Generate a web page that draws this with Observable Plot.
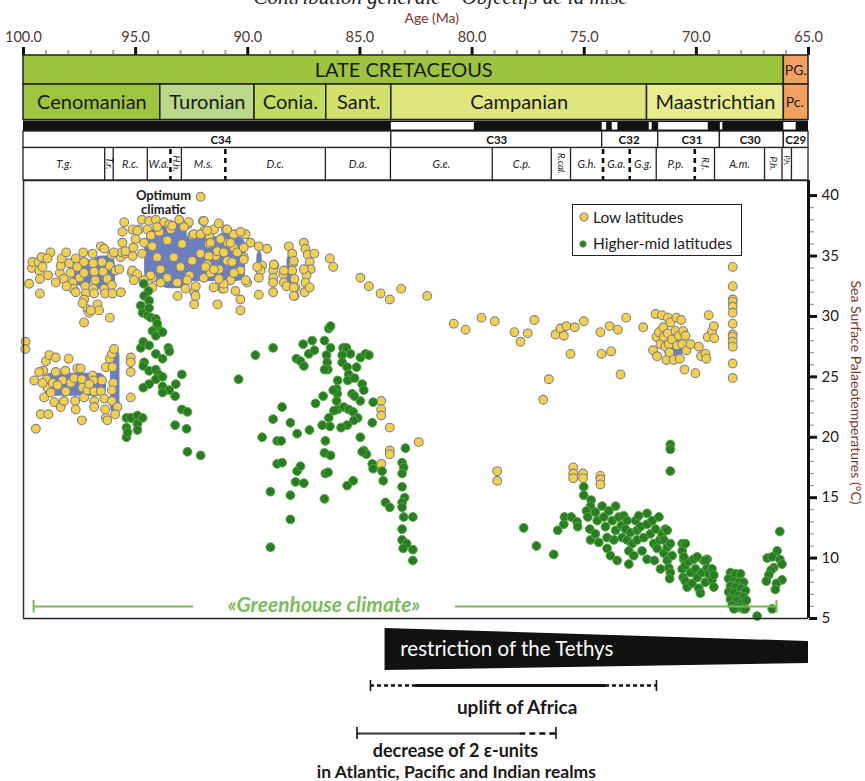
<!DOCTYPE html>
<html><head><meta charset="utf-8">
<script src="https://cdn.jsdelivr.net/npm/d3@7"></script>
<script src="https://cdn.jsdelivr.net/npm/@observablehq/plot@0.6"></script>
<style>
body{margin:0;background:#fff;}
#wrap{position:relative;width:865px;height:781px;overflow:hidden;font-family:Lato,"Open Sans",sans-serif;background:#fff;}
#wrap svg{display:block;}
#legend{position:absolute;left:572px;top:204px;width:168px;height:50px;border:1.6px solid #222;background:#fff;font:15.5px Lato,sans-serif;color:#1a1a1a;}
#legend .row{position:absolute;left:0;height:20px;line-height:20px;white-space:nowrap;}
#legend svg{position:absolute;top:0;}
#legend span{position:absolute;left:20px;}
</style></head><body><div id="wrap"></div>
<script>
// ---------- time scale ----------
const ageMajor = [100, 95, 90, 85, 80, 75, 70, 65];
const ageMinor = [99,98,97,96,94,93,92,91,89,88,87,86,84,83,82,81,79,78,77,76,74,73,72,71,69,68,67,66];
const periods = [
  {name: "LATE CRETACEOUS", start: 100, end: 66.1, fill: "#9cc43f"},
  {name: "PG.", start: 66.1, end: 65, fill: "#f3a160"}
];
const stages = [
  {name: "Cenomanian", start: 100, end: 93.9, fill: "#9dc540"},
  {name: "Turonian", start: 93.9, end: 89.7, fill: "#bad78b"},
  {name: "Conia.", start: 89.7, end: 86.5, fill: "#c2da5f"},
  {name: "Sant.", start: 86.5, end: 83.6, fill: "#d2e06c"},
  {name: "Campanian", start: 83.6, end: 72.2, fill: "#dfe67e"},
  {name: "Maastrichtian", start: 72.2, end: 66.1, fill: "#e7ec8f"},
  {name: "Pc.", start: 66.1, end: 65, fill: "#f3a160"}
];
const reversed = [[83.6,79.9],[74.2,74.0],[73.75,73.5],[72.1,71.97],[71.68,69.47],[68.93,68.82],[66.1,65.55]];
const chrons = [
  {name: "C34", start: 100, end: 83.6, label: 91.2},
  {name: "C33", start: 83.6, end: 74.2, label: 78.9},
  {name: "C32", start: 74.2, end: 71.7, label: 73.0},
  {name: "C31", start: 71.7, end: 68.95, label: 70.2},
  {name: "C30", start: 68.95, end: 66.1, label: 67.6},
  {name: "C29", start: 66.1, end: 65, label: 65.57}
];
const zones = [
  {name: "T.g.", start: 100, end: 96.38},
  {name: "T.r.", start: 96.38, end: 96.0, rot: true},
  {name: "R.c.", start: 96.0, end: 94.48},
  {name: "W.a.", start: 94.48, end: 93.45},
  {name: "H.h.", start: 93.45, end: 92.96, rot: true},
  {name: "M.s.", start: 92.96, end: 91.0},
  {name: "D.c.", start: 91.0, end: 86.54},
  {name: "D.a.", start: 86.54, end: 83.64},
  {name: "G.e.", start: 83.64, end: 79.1},
  {name: "C.p.", start: 79.1, end: 76.47},
  {name: "R.cal.", start: 76.47, end: 75.61, rot: true},
  {name: "G.h.", start: 75.61, end: 74.16},
  {name: "G.a.", start: 74.16, end: 72.97},
  {name: "G.g.", start: 72.97, end: 71.79},
  {name: "P.p.", start: 71.79, end: 70.07},
  {name: "R.f.", start: 70.07, end: 69.19, rot: true},
  {name: "A.m.", start: 69.19, end: 66.96},
  {name: "P.h.", start: 66.96, end: 66.18, rot: true},
  {name: "P.h.", start: 66.18, end: 65.76, rot: true, small: true}
];
const zoneSolid = [96.38, 96.0, 94.48, 92.96, 86.54, 83.64, 79.1, 76.47, 75.61, 71.79, 69.19, 66.96, 66.18, 65.76];
const zoneDashed = [93.45, 91.0, 74.16, 72.97, 70.07];

// ---------- temperatures [age Ma, SST °C] ----------
const lowLatCenoUpper = [[99.75,32.7],[99.63,34.0],[99.6,34.5],[99.33,34.5],[99.2,34.9],[99.3,33.8],[99.27,33.1],[99.15,34.1],[98.9,33.4],[98.8,35.3],[98.93,34.8],[99.27,31.9],[98.56,32.8],[98.38,33.6],[98.34,34.2],[98.3,34.8],[98.1,35.3],[98.2,33.1],[97.96,34.4],[97.9,33.6],[97.8,32.8],[97.78,32.3],[97.67,34.8],[97.6,34.1],[97.5,33.2],[97.34,35.3],[97.3,34.5],[97.3,33.6],[97.25,32.5],[97.22,31.9],[97.3,31.4],[97.15,30.6],[97.07,30.3],[96.92,35.2],[96.89,34.4],[96.85,33.7],[96.8,33.0],[96.89,32.3],[96.85,31.9],[96.7,31.0],[96.63,30.5],[96.5,34.5],[96.45,33.7],[96.4,32.3],[96.36,31.9],[96.26,33.1],[96.15,34.2],[96.15,29.9],[96.06,32.6],[96.03,31.9],[95.9,33.8],[95.73,33.9],[95.66,32.0],[97.3,29.5],[96.55,35.8],[96.4,35.6],[96.06,35.1],[95.76,35.2],[95.66,34.9],[97.67,32.0],[98.08,32.5],[97.37,31.1],[97.0,30.5]];
const lowLatTuronian = [[95.51,37.8],[95.59,37.0],[95.59,36.1],[95.62,35.3],[95.44,35.2],[95.14,37.2],[95.0,36.4],[95.1,35.7],[95.14,35.0],[95.17,33.6],[94.84,37.2],[94.72,38.0],[94.62,36.1],[94.47,37.2],[94.4,37.9],[94.32,36.7],[94.25,33.2],[94.1,38.0],[93.95,37.0],[93.88,32.8],[93.73,37.8],[93.5,37.6],[93.43,37.2],[93.06,38.0],[93.13,31.7],[92.69,37.6],[92.6,33.4],[92.47,36.7],[92.39,32.0],[92.39,31.0],[92.32,32.5],[92.0,37.9],[91.94,37.1],[91.72,36.7],[91.5,37.2],[91.43,35.0],[91.35,31.0],[91.28,33.9],[91.13,32.3],[90.98,37.2],[90.9,36.1],[92.1,39.9],
 [92.63,37.8],[91.29,37.7],[94.93,37.1],[94.04,37.4],[93.37,37.5],[92.85,37.4],[92.41,36.8],[92.11,36.8],[90.62,36.8],[90.1,36.8],[89.51,35.8],[89.14,35.6],[95.97,35.3],[95.45,35.4],[94.71,35.2],[95.15,33.8],[94.93,33.5],[94.34,33.4],[93.89,33.9],[93.59,33.2],[92.7,33.0],[92.33,31.7],[91.96,33.2],[91.66,33.6],[91.22,33.0],[91.07,32.3],[90.55,32.1],[90.33,31.4],[90.33,30.5],[90.03,32.8],[90.33,33.8],[90.18,34.9],[90.62,35.7],[90.92,34.6],[91.36,35.4],[91.81,34.3],[92.11,35.2],[92.48,34.6],[93.0,34.1],[93.3,34.9],[94.04,34.9],[94.26,35.8],[93.59,36.3],[92.93,36.0],[91.74,36.0],[95.08,33.0],[94.64,33.0],[94.26,32.4],[93.15,32.8],[92.78,32.3],[91.52,32.4],[90.77,33.0],
 [91.96,37.9],[90.92,37.2],[90.33,37.0],[89.88,36.1],[89.36,34.2],[89.43,33.8],[89.51,33.2],[89.51,31.8],[91.81,37.1],[91.66,36.1],[91.74,35.0],[91.89,34.1],[91.51,33.9],[91.22,36.4],[91.07,35.3],[90.77,36.1],[90.7,34.5],[90.62,33.6],[90.47,35.3],[90.18,35.7],[90.18,34.7],[90.1,33.0],[91.07,32.7],[91.29,33.1],[89.58,34.1]];
const lowLatConiSant = [[88.81,34.2],[88.87,33.8],[88.87,33.2],[88.87,32.8],[88.87,32.0],[88.42,33.5],[88.39,32.8],[88.27,32.5],[88.17,35.8],[88.02,35.2],[87.98,34.4],[88.02,33.8],[87.92,33.1],[87.87,32.4],[87.92,31.7],[87.5,36.1],[87.43,35.6],[87.33,35.1],[87.03,35.2],[87.24,34.5],[87.2,33.9],[87.38,33.4],[87.43,32.8],[87.47,32.0],[87.24,32.4],[86.34,34.8],[86.19,34.1],[84.98,33.2],[84.6,32.5],[84.08,31.9],[83.67,31.4],[83.16,32.3],[82.0,31.7],[88.84,34.3],[88.39,33.8],[87.95,34.6],[87.95,32.4],[87.95,31.7],[87.5,33.9],
 [84.05,23.0],[84.05,22.3],[84.05,21.8],[83.67,20.8],[83.67,18.9],[83.67,18.6],[84.05,17.8],[82.38,19.6]];
const lowLatCenoLower = [[99.91,27.9],[99.92,27.3],[99.52,24.7],[99.45,20.7],[99.23,21.9],[98.89,21.9],[99.12,25.5],[99.0,26.3],[98.85,26.8],[98.56,26.6],[98.97,24.8],[98.93,24.1],[99.08,23.3],[98.7,24.5],[98.63,22.9],[98.34,22.5],[98.56,25.4],[98.26,24.7],[98.14,25.5],[97.99,26.5],[98.11,23.8],[97.89,24.5],[97.74,24.9],[97.7,23.0],[97.67,22.3],[97.6,25.7],[97.4,24.8],[97.37,24.1],[97.3,23.3],[97.4,21.4],[97.15,23.9],[96.92,25.1],[96.88,24.7],[96.85,23.0],[96.85,22.5],[96.85,23.8],[96.55,23.8],[96.5,24.7],[96.4,23.2],[96.36,22.3],[96.33,21.6],[96.26,21.4],[96.33,25.8],[96.15,26.5],[96.06,26.9],[96.03,25.8],[96.0,24.5],[96.06,23.9],[96.06,23.0],[95.96,27.3],[95.81,22.5],[95.91,21.9],[95.22,26.6],[95.22,26.2],[95.22,25.4],[95.22,23.3],[95.17,21.6],[99.15,24.5],[99.3,25.4],[98.78,23.7],[98.48,24.3],[97.45,25.7],[97.07,24.4],[98.2,23.0]];
const lowLatCampMaas = [[80.82,29.4],[80.29,28.9],[79.58,29.9],[78.99,29.6],[78.11,28.7],[77.84,27.9],[77.52,28.6],[77.22,29.7],[76.83,23.1],[76.58,24.8],[76.28,28.5],[76.06,29.0],[75.91,28.4],[75.79,29.2],[75.61,26.9],[75.42,29.1],[75.02,29.6],[74.28,28.7],[74.23,26.9],[73.87,29.2],[73.8,27.1],[73.5,28.9],[73.38,25.2],[73.13,29.9],[72.37,29.1],
 [71.93,27.2],[71.82,30.2],[71.78,28.3],[71.75,26.7],[71.67,28.7],[71.6,27.7],[71.53,30.1],[71.48,29.1],[71.45,28.3],[71.38,27.5],[71.33,26.4],[71.27,29.9],[71.27,28.6],[71.23,27.7],[71.19,27.0],[71.16,29.5],[71.08,28.1],[71.01,26.4],[70.93,28.8],[70.89,29.9],[70.86,27.6],[70.78,28.4],[70.74,26.5],[70.68,29.7],[70.63,27.7],[70.59,28.8],[70.53,25.6],[70.49,28.4],[70.44,27.2],[70.26,27.7],[70.04,25.3],[69.89,27.5],[69.79,26.7],[69.59,26.9],[69.55,26.5],[69.45,30.1],[69.49,28.3],[69.3,28.8],[69.22,29.2],[69.2,28.2],
 [68.38,34.1],[68.38,32.5],[68.38,31.4],[68.38,31.2],[68.38,30.8],[68.38,30.3],[68.38,29.4],[68.38,28.5],[68.38,28.3],[68.38,27.9],[68.38,27.5],[68.38,26.1],[68.38,24.9],
 [78.88,17.2],[78.88,16.4],[75.49,17.5],[75.49,17.0],[75.49,16.6],[75.05,17.0],[75.05,16.6],[74.28,16.8],[74.28,16.5],[74.28,16.1]];

const highLatTuronian = [[94.64,32.7],[94.43,32.1],[94.62,31.7],[94.4,31.3],[94.77,30.9],[94.69,30.3],[94.47,30.1],[94.4,30.7],[94.32,29.9],[94.1,29.8],[94.03,29.2],[94.04,29.4],[94.25,28.8],[94.1,28.4],[93.8,28.7],[94.77,27.4],[94.66,27.9],[94.4,27.6],[94.1,26.9],[93.8,26.5],[93.54,27.4],[93.5,27.1],[94.62,26.2],[94.66,25.9],[94.4,25.5],[94.1,25.6],[93.98,25.2],[94.1,24.8],[94.4,24.4],[94.66,24.1],[93.8,25.0],[93.8,24.2],[93.5,23.9],[93.21,24.4],[92.94,25.2],[93.24,23.4],[93.8,23.7],[92.94,22.3],[92.69,22.1],[93.24,21.0],[92.73,20.7],[92.69,18.8],[92.1,18.5],[90.41,24.8],[95.41,21.6],[95.41,20.8],[95.41,20.0],[95.22,21.6],[94.92,21.8],[94.69,21.6],[94.92,21.1],[94.92,20.6],[95.36,20.4]];
const highLatConiSant = [[89.66,26.8],[88.87,27.4],[88.47,22.5],[88.87,21.5],[89.36,20.0],[88.69,19.7],[88.51,19.7],[88.1,21.2],[87.8,20.3],[87.25,20.6],[88.69,17.8],[88.47,17.9],[87.8,17.2],[87.65,17.6],[87.87,16.3],[87.5,16.2],[88.99,15.5],[88.1,15.2],[88.1,13.2],[88.99,10.9],[86.58,14.9],[87.53,27.7],[87.13,28.0],[87.83,26.5],[87.65,26.3],[87.5,25.9],[87.28,26.9],[87.03,27.2],[86.58,28.0],[86.39,29.0],[86.31,29.2],[86.31,27.4],[86.49,26.8],[86.46,26.2],[86.43,25.6],[86.64,23.4],[86.98,22.8],[85.99,24.7],[86.04,24.0],[86.01,23.6],[86.04,23.0],[85.99,22.3],[85.75,27.4],[85.6,27.4],[85.42,26.9],[85.79,26.8],[85.79,26.2],[85.57,25.8],[85.5,25.2],[85.54,24.7],[85.24,24.9],[85.15,25.8],[84.98,26.6],[84.75,26.9],[84.9,24.4],[84.83,23.9],[84.98,23.0],[85.35,23.6],[85.24,23.4],[85.72,22.5],[85.5,22.3],[85.3,22.1],[85.1,21.6],[85.27,21.4],[85.57,21.0],[85.84,20.8],[86.39,21.6],[86.34,20.9],[86.68,21.0],[86.54,19.7],[86.58,18.7],[86.31,18.5],[86.54,17.0],[84.98,20.0],[84.83,18.9],[84.71,18.6],[84.45,21.2],[84.41,22.9],[84.45,17.8],[84.41,17.4],[84.01,17.2],[83.96,16.4],[85.57,16.0],[85.3,16.4],[83.86,14.6],[83.67,14.2],[82.97,19.1],[83.12,17.9],[83.05,17.5],[83.12,17.0],[83.12,15.9],[83.01,15.0],[83.12,14.6],[83.12,14.2],[83.05,13.4],[82.64,13.4],[83.12,12.4],[83.12,11.5],[82.92,11.2],[83.07,10.8],[82.64,10.7],[82.64,9.8],[84.6,26.8],[86.58,25.6],[86.19,23.9],[86.16,22.2],[84.9,18.8],[86.42,17.1]];
const highLatCampMaas = [[77.7,12.5],[77.13,11.0],[76.36,10.3],[76.18,12.3],[75.91,12.8],[75.88,13.4],[75.58,13.4],[75.32,13.0],[75.29,12.6],[75.02,15.9],[75.02,15.2],[74.69,14.8],[74.72,14.3],[74.9,13.9],[74.84,13.4],[74.75,12.4],[74.72,11.5],[74.5,13.8],[74.42,13.1],[74.5,12.0],[74.35,11.3],[74.2,14.3],[74.13,13.4],[74.05,12.6],[73.98,11.7],[73.98,10.8],[73.83,10.2],[73.9,13.9],[73.75,13.1],[73.6,14.3],[73.6,12.3],[73.68,11.5],[73.53,9.8],[73.46,13.4],[73.35,12.7],[73.31,11.7],[73.24,13.5],[73.16,12.4],[73.09,13.1],[73.09,11.5],[73.01,10.6],[72.94,12.1],[73.01,9.5],[72.86,11.2],[72.79,10.2],[72.71,13.1],[72.64,12.3],[72.64,11.5],[72.57,13.5],[72.49,12.6],[72.42,10.6],[72.34,11.7],[72.2,13.7],[72.2,12.8],[72.2,9.9],[72.05,12.0],[71.97,13.1],[71.9,11.2],[71.87,9.8],[71.82,12.4],[71.75,10.8],[71.67,13.4],[71.63,11.5],[71.6,9.1],[71.53,12.0],[71.45,10.4],[71.45,11.5],[71.38,12.4],[71.3,10.9],[71.3,9.8],[71.23,9.2],[71.16,8.8],[71.19,8.3],[71.08,10.2],[71.16,11.2],[71.3,12.3],
 [70.63,11.2],[70.63,10.6],[70.49,11.2],[70.56,9.9],[70.63,9.1],[70.59,8.4],[70.49,9.4],[70.49,8.1],[70.41,7.6],[70.34,9.7],[70.26,8.8],[70.19,7.9],[70.12,9.9],[70.04,9.1],[69.96,8.4],[69.89,7.5],[69.82,7.1],[69.74,8.8],[69.67,9.8],[69.6,8.0],[69.52,9.2],[69.45,8.7],[69.52,9.9],[69.3,8.2],[69.3,9.1],[69.22,7.6],[69.22,8.6],[70.56,10.1],[69.96,10.1],[69.59,9.8],
 [71.16,19.4],[71.16,19.0],[71.16,17.2],
 [68.48,8.8],[68.26,8.7],[68.03,8.7],[68.56,8.3],[68.33,8.1],[68.11,8.0],[67.89,8.0],[68.48,7.7],[68.26,7.6],[68.0,7.5],[67.81,7.3],[68.56,7.2],[68.33,7.1],[68.11,6.9],[67.89,6.8],[68.48,6.6],[68.2,6.5],[67.96,6.3],[67.77,6.5],[68.4,6.1],[68.15,5.9],[67.91,5.8],[68.33,5.8],[67.81,5.8],[67.29,5.2],
 [66.28,12.2],[66.4,10.6],[66.84,10.0],[66.62,10.1],[66.28,9.9],[66.18,9.5],[66.55,9.2],[66.67,9.0],[66.77,8.6],[66.88,8.1],[66.18,8.2],[66.43,7.9],[66.48,7.4],[66.62,5.8]];
// dense overlapping low-latitude clusters (blue patches): [oldest age, youngest age, min °C, max °C]
const denseClusters = [[97.8,96.9,32.5,34.8],[96.9,95.9,32.2,35.0],[94.6,90.1,32.9,36.6],[94.5,93.9,32.8,37.2],[93.9,92.7,32.3,37.8],[92.3,91.5,33.2,37.2],[91.4,90.7,32.8,36.9],[89.6,89.35,33.2,35.4],[88.25,87.85,32.5,35.2],[99.1,96.3,23.4,25.3],[96.12,95.7,21.9,27.3],[71.4,70.6,26.3,28.4]];

// annotations
const greenhouseSpans = [[99.55,92.42],[80.74,66.43]];
const greenhouseEnds = [99.55, 66.43];
const tethys = [{age: 83.88, top: 628, bottom: 670}, {age: 65, top: 641, bottom: 663}];
const upliftSolid = [82.52, 74.05], upliftDashed = [[84.53,82.52],[74.05,71.78]];
const decreaseSolid = [85.13, 77.87], decreaseDashed = [77.87, 76.26];

const X = {domain: [100, 65], range: [23, 808], axis: null};
const font = "Lato, 'Open Sans', sans-serif";
const baseStyle = {fontFamily: font, fontSize: "12px", background: "transparent", overflow: "visible"};
const wrap = document.getElementById("wrap");
const mid = d => (d.start + d.end) / 2;
const narrow = d => d.end - d.start > -1.5;

// ---------- top time scale ----------
const topPlot = Plot.plot({
  width: 865, height: 180, margin: 0,
  x: X, y: {domain: [0, 180], range: [0, 180], axis: null},
  style: baseStyle,
  marks: [
    Plot.text(["Contribution générale – Objectifs de la mise"], {x: 81.4, y: -3, fontFamily: "'Liberation Serif', serif", fontStyle: "italic", fontSize: 21, fill: "#222"}),
    Plot.text(["Age (Ma)"], {x: 81.8, y: 18, fontSize: 14, fill: "#7b3a28"}),
    Plot.text(ageMajor, {x: d => d, y: 37, text: d => d.toFixed(1), fontSize: 14.5, fill: "#4d3a35"}),
    Plot.ruleX(ageMinor, {x: d => d, y1: 50, y2: 54, stroke: "#aaa", strokeWidth: 2}),
    Plot.ruleX(ageMajor, {x: d => d, y1: 47, y2: 55, stroke: "#111", strokeWidth: 3}),
    Plot.rect(periods, {x1: "start", x2: "end", y1: 55, y2: 84, fill: "fill", stroke: "#222", strokeWidth: 1.5}),
    Plot.text(periods.filter(d => !narrow(d)), {x: mid, y: 70, text: "name", fontSize: 20, fill: "#1a1a1a"}),
    Plot.text(periods.filter(narrow), {x: "start", y: 70, text: "name", fontSize: 14, textAnchor: "start", dx: 1, fill: "#1a1a1a"}),
    Plot.rect(stages, {x1: "start", x2: "end", y1: 84, y2: 119.5, fill: "fill", stroke: "#222", strokeWidth: 1.5}),
    Plot.text(stages.filter(d => !narrow(d)), {x: mid, y: 102, text: "name", fontSize: 20, fill: "#1a1a1a"}),
    Plot.text(stages.filter(narrow), {x: "start", y: 102, text: "name", fontSize: 14, textAnchor: "start", dx: 2, fill: "#1a1a1a"}),
    Plot.rect([[100, 65]], {x1: d => d[0], x2: d => d[1], y1: 120.5, y2: 131, fill: "#111"}),
    Plot.rect(reversed, {x1: d => d[0], x2: d => d[1], y1: 122, y2: 129.5, fill: "#fff"}),
    Plot.rect(chrons, {x1: "start", x2: "end", y1: 131, y2: 147.5, fill: "#fff", stroke: "#222", strokeWidth: 1.3}),
    Plot.text(chrons, {x: "label", y: 139.5, text: "name", fontWeight: "bold", fontSize: 11.5, fill: "#111"}),
    Plot.rect([[100, 65]], {x1: d => d[0], x2: d => d[1], y1: 147.5, y2: 180, fill: "#fff", stroke: "#222", strokeWidth: 1.3}),
    Plot.ruleX(zoneSolid, {x: d => d, y1: 147.5, y2: 180, stroke: "#222", strokeWidth: 1.3}),
    Plot.ruleX(zoneDashed, {x: d => d, y1: 149, y2: 180, stroke: "#111", strokeWidth: 2.6, strokeDasharray: "5,4"}),
    Plot.text(zones.filter(d => !d.rot), {x: mid, y: 164, text: "name", fontStyle: "italic", fontSize: 11, fill: "#222"}),
    Plot.text(zones.filter(d => d.rot && !d.small), {x: mid, y: 163, text: "name", rotate: 90, fontStyle: "italic", fontSize: 9.5, fill: "#222"}),
    Plot.text(zones.filter(d => d.small), {x: mid, y: 160, text: "name", rotate: 90, fontStyle: "italic", fontSize: 7, fill: "#222"})
  ]
});
wrap.appendChild(topPlot);

// ---------- main scatter ----------
const lowLat = [...lowLatCenoUpper, ...lowLatTuronian, ...lowLatConiSant, ...lowLatCenoLower, ...lowLatCampMaas];
const highLat = [...highLatTuronian, ...highLatConiSant, ...highLatCampMaas];
const sstMajor = [5, 10, 15, 20, 25, 30, 35, 40];
const sstMinor = [6,7,8,9,11,12,13,14,16,17,18,19,21,22,23,24,26,27,28,29,31,32,33,34,36,37,38,39];
const mainPlot = Plot.plot({
  width: 865, height: 445, marginLeft: 23, marginRight: 57, marginTop: 0, marginBottom: 7,
  x: X, y: {domain: [5, 41.25], axis: null},
  style: baseStyle,
  marks: [
    Plot.rect(denseClusters, {x1: d => d[0], x2: d => d[1], y1: d => d[2], y2: d => d[3], fill: "#6b7fbf", rx: 8}),
    Plot.dot(lowLat, {x: d => d[0], y: d => d[1], r: 4.4, fill: "#f3d04c", stroke: "#7f8090", strokeWidth: 1.1}),
    Plot.dot(highLat, {x: d => d[0], y: d => d[1], r: 4.4, fill: "#2a7d25", stroke: "#53a63e", strokeWidth: 1}),
    Plot.text(["Optimum\nclimatic"], {x: 93.76, y: 39.4, fontWeight: "bold", fontSize: 13, lineHeight: 1.05, fill: "#1a1a1a"}),
    Plot.ruleY(greenhouseSpans, {x1: d => d[0], x2: d => d[1], y: 6, stroke: "#78b859", strokeWidth: 2}),
    Plot.ruleX(greenhouseEnds, {x: d => d, y1: 5.45, y2: 6.5, stroke: "#78b859", strokeWidth: 2}),
    Plot.text(["«Greenhouse climate»"], {x: 86.6, y: 6.1, fontSize: 21, fontStyle: "italic", fontWeight: "bold", fill: "#7dbb5c"}),
    Plot.ruleY([5], {x1: 100, x2: 65, stroke: "#222", strokeWidth: 1.5}),
    Plot.ruleY([41.25], {x1: 100, x2: 65, stroke: "#222", strokeWidth: 1.5}),
    Plot.ruleX([100], {y1: 5, y2: 41.25, stroke: "#333", strokeWidth: 1.5}),
    Plot.axisY({anchor: "right", ticks: sstMinor, tickSize: 5, stroke: "#999", strokeWidth: 1.2, tickFormat: () => "", label: null}),
    Plot.axisY({anchor: "right", ticks: sstMajor, tickSize: 8, tickPadding: 5, strokeWidth: 3, stroke: "#111", fill: "#1a1a1a", fontSize: 15, label: null}),
    Plot.ruleX([65], {y1: 5, y2: 41.25, stroke: "#111", strokeWidth: 3}),
    Plot.text(["Sea Surface Palaeotemperatures (°C)"], {frameAnchor: "right", dx: 47, dy: -7, rotate: 90, textAnchor: "middle", fontSize: 14, fill: "#7b3a28"})
  ]
});
wrap.appendChild(mainPlot);

// ---------- bottom annotations ----------
const bottomPlot = Plot.plot({
  width: 865, height: 156, margin: 0,
  x: X, y: {domain: [625, 781], range: [0, 156], axis: null},
  style: baseStyle,
  marks: [
    Plot.areaY(tethys, {x: "age", y1: "top", y2: "bottom", fill: "#111", curve: "linear"}),
    Plot.text(["restriction of the Tethys"], {x: 83.2, y: 649, textAnchor: "start", fontSize: 20.5, fill: "#fff"}),
    Plot.ruleY([upliftSolid], {x1: d => d[0], x2: d => d[1], y: 685, stroke: "#111", strokeWidth: 3.2}),
    Plot.ruleY(upliftDashed, {x1: d => d[0], x2: d => d[1], y: 685, stroke: "#111", strokeWidth: 2.4, strokeDasharray: "4,3"}),
    Plot.ruleX([84.53, 71.78], {x: d => d, y1: 680, y2: 691, stroke: "#111", strokeWidth: 1.6}),
    Plot.text(["uplift of Africa"], {x: 77.99, y: 707, fontWeight: "bold", fontSize: 19, fill: "#1a1a1a"}),
    Plot.ruleY([decreaseSolid], {x1: d => d[0], x2: d => d[1], y: 733, stroke: "#333", strokeWidth: 2}),
    Plot.ruleY([decreaseDashed], {x1: d => d[0], x2: d => d[1], y: 733, stroke: "#111", strokeWidth: 2.6, strokeDasharray: "6,4"}),
    Plot.ruleX([85.13, 76.26], {x: d => d, y1: 727, y2: 739, stroke: "#111", strokeWidth: 1.6}),
    Plot.text(["decrease of 2 ε-units"], {x: 80.74, y: 751, fontWeight: "bold", fontSize: 18, fill: "#1a1a1a"}),
    Plot.text(["in Atlantic, Pacific and Indian realms"], {x: 80.7, y: 772, fontWeight: "bold", fontSize: 17.5, fill: "#1a1a1a"})
  ]
});
wrap.appendChild(bottomPlot);

// ---------- legend ----------
const legend = document.createElement("div");
legend.id = "legend";
legend.innerHTML =
  '<div class="row" style="top:2px;left:4px"><svg width="16" height="20"><circle cx="7" cy="10" r="4" fill="#f3d04c" stroke="#7f8090" stroke-width="1.1"/></svg><span style="left:16px">Low latitudes</span></div>' +
  '<div class="row" style="top:28px;left:4px"><svg width="16" height="20"><circle cx="6" cy="11" r="3.2" fill="#2a7d25" stroke="#53a63e"/></svg><span style="left:16px">Higher-mid latitudes</span></div>';
wrap.appendChild(legend);
</script></body></html>
